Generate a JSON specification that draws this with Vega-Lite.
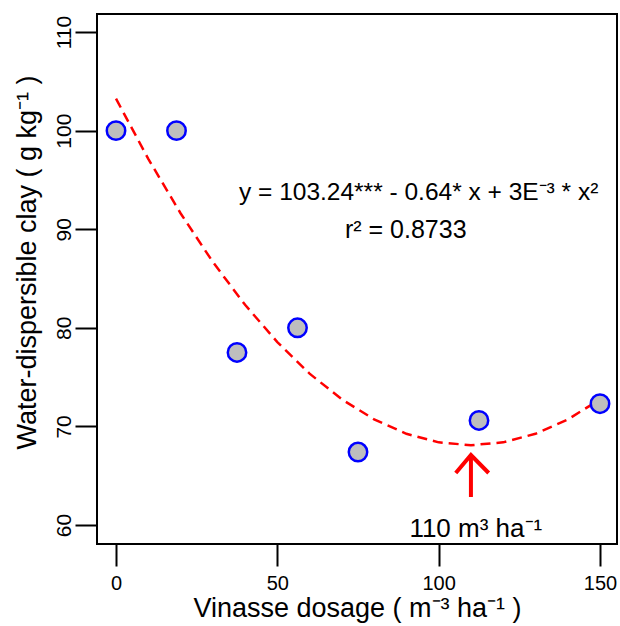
{
  "$schema": "https://vega.github.io/schema/vega-lite/v6.json",
  "width": 520,
  "height": 530,
  "autosize": "none",
  "padding": {"left": 97, "top": 14, "right": 3, "bottom": 82},
  "background": "white",
  "config": {
    "font": "Liberation Sans",
    "view": {"stroke": "black", "strokeWidth": 2},
    "axis": {"grid": false, "domain": false, "tickColor": "black", "tickWidth": 2, "tickSize": 22,
             "labelColor": "black", "titleColor": "black", "labelFont": "Liberation Sans", "titleFont": "Liberation Sans",
             "labelFontSize": 20, "titleFontSize": 27, "titleFontWeight": "normal"}
  },
  "datasets": {
    "obs": [
      {"dose": 0, "clay": 100.0},
      {"dose": 18.75, "clay": 100.0},
      {"dose": 37.5, "clay": 77.5},
      {"dose": 56.25, "clay": 80.0},
      {"dose": 75, "clay": 67.4},
      {"dose": 112.5, "clay": 70.6},
      {"dose": 150, "clay": 72.3}
    ],
    "fit": [
      {"dose": 0, "clay": 103.24},
      {"dose": 10, "clay": 97.14},
      {"dose": 20, "clay": 91.62},
      {"dose": 30, "clay": 86.68},
      {"dose": 40, "clay": 82.33},
      {"dose": 50, "clay": 78.55},
      {"dose": 60, "clay": 75.35},
      {"dose": 70, "clay": 72.74},
      {"dose": 80, "clay": 70.71},
      {"dose": 90, "clay": 69.25},
      {"dose": 100, "clay": 68.38},
      {"dose": 110, "clay": 68.09},
      {"dose": 120, "clay": 68.38},
      {"dose": 130, "clay": 69.25},
      {"dose": 140, "clay": 70.70},
      {"dose": 150, "clay": 72.73}
    ],
    "arrow": [
      {"part": "stem", "ord": 1, "dose": 110, "clay": 62.84},
      {"part": "stem", "ord": 2, "dose": 110, "clay": 67.0},
      {"part": "head", "ord": 1, "dose": 105.3, "clay": 65.27},
      {"part": "head", "ord": 2, "dose": 110, "clay": 67.09},
      {"part": "head", "ord": 3, "dose": 115.5, "clay": 65.27}
    ],
    "labels": [
      {"dose": 93.8, "clay": 93.7, "txt": "y = 103.24*** - 0.64* x + 3E⁻³ * x²", "fs": 24.5},
      {"dose": 89.8, "clay": 89.9, "txt": "r² = 0.8733", "fs": 25},
      {"dose": 111.5, "clay": 59.6, "txt": "110 m³ ha⁻¹", "fs": 26}
    ]
  },
  "encoding": {
    "x": {"field": "dose", "type": "quantitative",
          "scale": {"domain": [-5.89, 155.27], "nice": false, "zero": false},
          "axis": {"values": [0, 50, 100, 150], "title": "Vinasse dosage ( m⁻³ ha⁻¹ )", "labelPadding": 7, "titlePadding": 2}},
    "y": {"field": "clay", "type": "quantitative",
          "scale": {"domain": [58.07, 111.83], "nice": false, "zero": false},
          "axis": {"values": [60, 70, 80, 90, 100, 110], "title": "Water-dispersible clay ( g kg⁻¹ )",
                   "labelAngle": -90, "labelAlign": "center", "labelBaseline": "alphabetic", "labelPadding": 5, "labelFontSize": 21,
                   "titlePadding": 12, "titleY": 248}}
  },
  "layer": [
    {"data": {"name": "fit"}, "mark": {"type": "line", "color": "#ff0000", "strokeWidth": 2.5, "strokeDash": [10, 6]}},
    {"data": {"name": "obs"}, "mark": {"type": "point", "shape": "circle", "filled": true, "fill": "#bebebe", "stroke": "#0000ff", "strokeWidth": 2.5, "size": 340, "opacity": 1}},
    {"data": {"name": "arrow"}, "mark": {"type": "line", "color": "#ff0000", "strokeWidth": 4, "strokeJoin": "miter", "strokeCap": "butt"},
     "encoding": {"detail": {"field": "part"}, "order": {"field": "ord"}}},
    {"data": {"name": "labels"}, "mark": {"type": "text", "color": "black", "align": "center", "baseline": "middle"},
     "encoding": {"text": {"field": "txt"}, "size": {"field": "fs", "type": "quantitative", "scale": null}}}
  ]
}
